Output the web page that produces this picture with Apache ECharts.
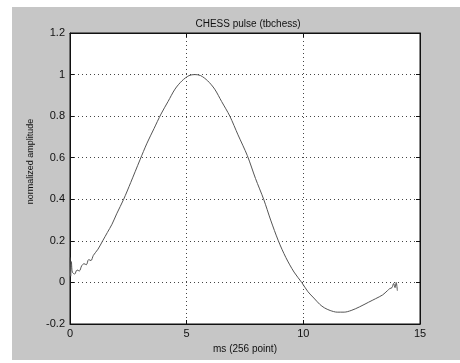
<!DOCTYPE html>
<html>
<head>
<meta charset="utf-8">
<script src="https://cdn.jsdelivr.net/npm/echarts@6/dist/echarts.min.js"></script>
<style>
  html, body { margin: 0; padding: 0; background: #fff; }
  #chart { width: 460px; height: 363px; }
</style>
</head>
<body>
<div id="chart"></div>
<script>
// values
const timeMs = [
  0, 0.03, 0.06, 0.1, 0.2, 0.3, 0.4, 0.5, 0.6, 0.7, 0.8, 0.9, 1.0,
  1.2, 1.4, 1.6, 1.8, 2.0, 2.3, 2.6, 3.0, 3.3, 3.6, 3.9, 4.2, 4.5, 4.8,
  5.1, 5.35, 5.6, 5.9, 6.2, 6.5, 6.85, 7.2, 7.6, 7.95, 8.3, 8.6, 8.93,
  9.25, 9.6, 9.93, 10.2, 10.45, 10.7, 10.9, 11.15, 11.45, 11.75, 12.05,
  12.4, 12.8, 13.1, 13.4, 13.6, 13.7, 13.8, 13.87, 13.93, 13.98, 14.03
];
const amplitude = [
  0.12, 0.03, 0.1, 0.05, 0.04, 0.06, 0.055, 0.08, 0.09, 0.085, 0.11, 0.105, 0.13,
  0.16, 0.2, 0.24, 0.28, 0.33, 0.40, 0.48, 0.59, 0.67, 0.74, 0.81, 0.87, 0.93, 0.97,
  0.995, 1.0, 0.995, 0.97, 0.93, 0.87, 0.8, 0.71, 0.61, 0.5, 0.4, 0.3, 0.2,
  0.12, 0.05, 0.0, -0.045, -0.075, -0.105, -0.122, -0.135, -0.143, -0.143, -0.135,
  -0.118, -0.095, -0.078, -0.06, -0.04, -0.03, -0.025, -0.005, -0.025, 0.0, -0.04
];
const xTicks = [0, 5, 10, 15];
const yTicks = [-0.2, 0, 0.2, 0.4, 0.6, 0.8, 1, 1.2];

const chart = echarts.init(document.getElementById("chart"));
const font = "Liberation Sans, Arial, sans-serif";

const gridLine = {
  show: true,
  lineStyle: { color: "#444", type: [1, 3], width: 1 },
};
const boxAxis = {
  axisLine: { show: true, onZero: false, lineStyle: { color: "#111" } },
  axisTick: { show: true, inside: true, length: 4, lineStyle: { color: "#111" } },
  axisLabel: { show: false },
  splitLine: { show: false },
};

chart.setOption({
  animation: false,
  backgroundColor: "#fff",
  graphic: [
    // scanned gray paper behind the axes
    {
      type: "rect",
      z: -10,
      shape: { x: 12, y: 7, width: 448, height: 353 },
      style: { fill: "#c6c6c6" },
    },
  ],
  title: {
    text: "CHESS pulse (tbchess)",
    left: 243,
    top: 14,
    textAlign: "center",
    textStyle: { fontFamily: font, fontSize: 10, fontWeight: "normal", color: "#111" },
  },
  grid: {
    left: 70,
    right: 40,
    top: 33,
    bottom: 39,
    show: true,
    backgroundColor: "#fff",
    borderColor: "#111",
    borderWidth: 1,
  },
  xAxis: [
    {
      type: "value",
      min: 0,
      max: 15,
      interval: 5,
      name: "ms (256 point)",
      nameLocation: "middle",
      nameGap: 19,
      nameTextStyle: { fontFamily: font, fontSize: 10, color: "#111" },
      axisLine: { show: true, onZero: false, lineStyle: { color: "#111" } },
      axisTick: { show: true, inside: true, length: 4, lineStyle: { color: "#111" } },
      axisLabel: {
        fontFamily: font,
        fontSize: 11,
        color: "#111",
        margin: 4,
        formatter: (v) => (xTicks.includes(v) ? String(v) : ""),
      },
      splitLine: gridLine,
    },
    Object.assign({ type: "value", position: "top", min: 0, max: 15, interval: 5 }, boxAxis),
  ],
  yAxis: [
    {
      type: "value",
      min: -0.2,
      max: 1.2,
      interval: 0.2,
      name: "normalized amplitude",
      nameLocation: "middle",
      nameGap: 27,
      nameTextStyle: { fontFamily: font, fontSize: 9, color: "#111", padding: [0, 0, 0, 34] },
      axisLine: { show: true, onZero: false, lineStyle: { color: "#111" } },
      axisTick: { show: true, inside: true, length: 4, lineStyle: { color: "#111" } },
      axisLabel: {
        fontFamily: font,
        fontSize: 11,
        color: "#111",
        margin: 5,
        formatter: (v) => {
          const r = Math.round(v * 10) / 10;
          return yTicks.includes(r) ? String(r) : "";
        },
      },
      splitLine: gridLine,
    },
    Object.assign({ type: "value", position: "right", min: -0.2, max: 1.2, interval: 0.2 }, boxAxis),
  ],
  series: [
    {
      type: "line",
      data: timeMs.map((t, i) => [t, amplitude[i]]),
      showSymbol: false,
      smooth: 0.3,
      lineStyle: { color: "#555", width: 1 },
    },
  ],
});
</script>
</body>
</html>
